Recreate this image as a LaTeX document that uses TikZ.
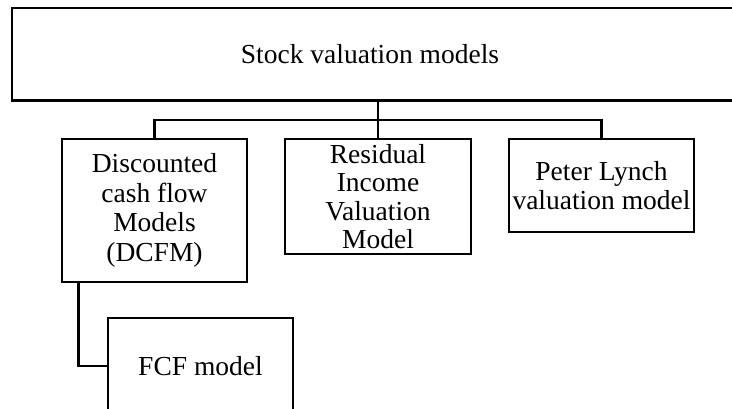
\documentclass[tikz,border=0pt]{standalone}
\usepackage{fontspec}
\setmainfont{Liberation Serif}
\begin{document}
\begin{tikzpicture}[x=1pt,y=-1pt,
  every node/.style={font=\fontsize{27.5}{29.5}\selectfont, align=center, inner sep=0pt},
  box/.style={draw, line width=2.6pt, rectangle},
  conn/.style={line width=2.6pt},
  tight/.style={font=\fontsize{27.5}{28.3}\selectfont},
]
\useasboundingbox (0,0) rectangle (732,408);
\node[minimum width=716pt, minimum height=92pt] (top) at (370,54) {Stock valuation models};
\draw[conn] ([xshift=30pt]top.north east) -- (top.north west) -- (top.south west) -- ([xshift=30pt]top.south east);
\node[box, minimum width=185pt, minimum height=143pt] (dcf) at (154.5,210.5) {Discounted\\cash flow\\Models\\(DCFM)};
\node[box, tight, minimum width=186pt, minimum height=115pt] (res) at (378,196.5) {Residual\\Income\\Valuation\\Model};
\node[box, minimum width=185pt, minimum height=93pt] (pl) at (601.5,185.5) {Peter Lynch\\valuation model};
\node[box, minimum width=185pt, minimum height=96pt] (fcf) at (200.5,366) {FCF model};
\coordinate (bus) at (378,120);
\draw[conn] (top.south -| res.north) -- (res.north);
\draw[conn] (dcf.north) |- (bus) -| (pl.north);
\draw[conn] ([xshift=18pt]dcf.south west) |- (fcf.west);
\end{tikzpicture}
\end{document}
